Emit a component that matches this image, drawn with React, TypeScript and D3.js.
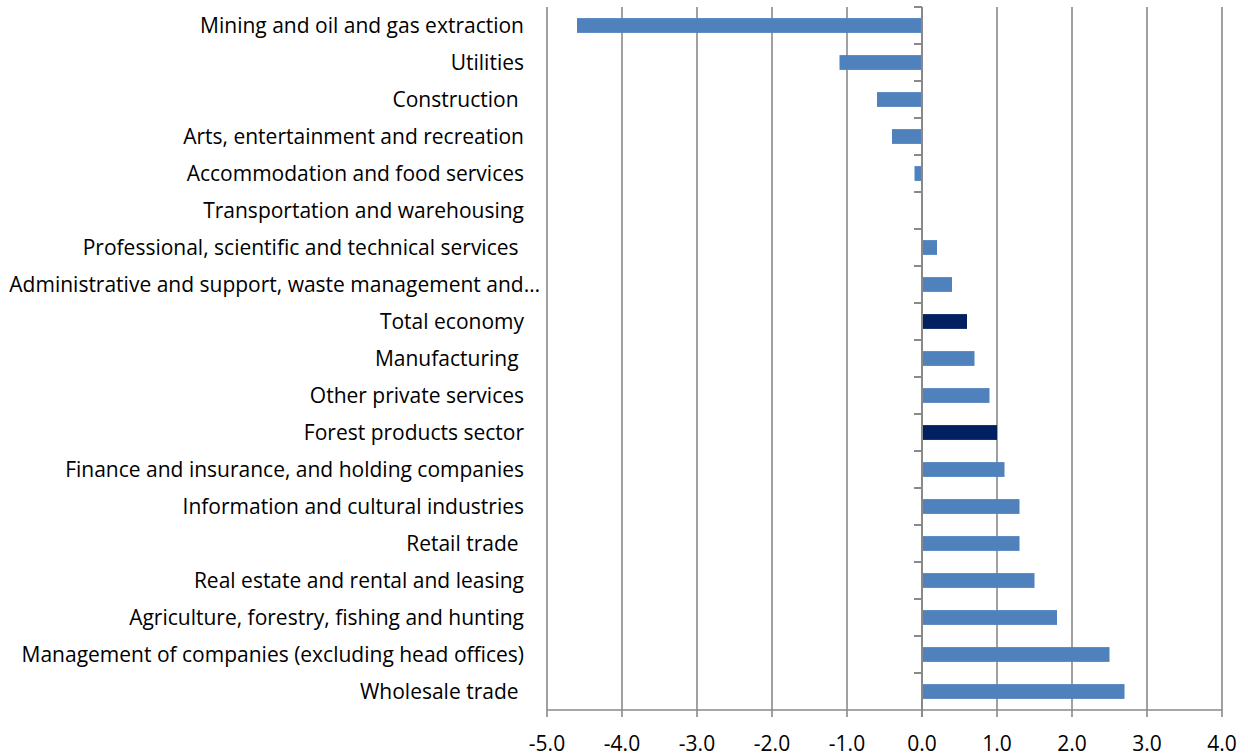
import * as d3 from "d3";

const categories = [
  "Mining and oil and gas extraction",
  "Utilities",
  "Construction ",
  "Arts, entertainment and recreation",
  "Accommodation and food services",
  "Transportation and warehousing",
  "Professional, scientific and technical services ",
  "Administrative and support, waste management and…",
  "Total economy",
  "Manufacturing ",
  "Other private services",
  "Forest products sector",
  "Finance and insurance, and holding companies",
  "Information and cultural industries",
  "Retail trade ",
  "Real estate and rental and leasing",
  "Agriculture, forestry, fishing and hunting",
  "Management of companies (excluding head offices)",
  "Wholesale trade ",
];

const values = [-4.6, -1.1, -0.6, -0.4, -0.1, 0, 0.2, 0.4, 0.6, 0.7, 0.9, 1.0, 1.1, 1.3, 1.3, 1.5, 1.8, 2.5, 2.7];

const highlighted = ["Total economy", "Forest products sector"];

const xTicks = [-5, -4, -3, -2, -1, 0, 1, 2, 3, 4];

const W = 1248;
const H = 756;
const LEFT = 547;
const RIGHT = 1222;
const TOP = 7;
const BOTTOM = 710;

const FONT = "'Open Sans', Lato, sans-serif";
const GRID = "#898989";
const BAR = "#4F81BD";
const BAR_DARK = "#002060";

export default function App() {
  const x = d3.scaleLinear().domain([-5, 4]).range([LEFT, RIGHT]);
  const y = d3.scaleBand<string>().domain(categories).range([TOP, BOTTOM]).paddingInner(0.6).paddingOuter(0.3);
  const band = d3.scaleBand<string>().domain(categories).range([TOP, BOTTOM]);
  const x0 = x(0);

  return (
    <div style={{ position: "fixed", left: 0, top: 0, width: W, height: H, background: "#fff" }}>
      <svg width={W} height={H} style={{ display: "block" }}>
        {/* vertical gridlines */}
        {xTicks.filter(t => t !== 0).map(t => (
          <line key={t} x1={x(t)} x2={x(t)} y1={TOP} y2={BOTTOM + 7} stroke={GRID} strokeWidth={1.6} />
        ))}

        {/* bars */}
        {categories.map((c, i) => {
          const v = values[i];
          return (
            <rect
              key={c}
              x={Math.min(x(v), x0)}
              y={y(c)}
              width={Math.abs(x(v) - x0)}
              height={y.bandwidth()}
              fill={highlighted.includes(c) ? BAR_DARK : BAR}
            />
          );
        })}

        {/* zero axis with category ticks */}
        <line x1={x0} x2={x0} y1={TOP} y2={BOTTOM + 7} stroke={GRID} strokeWidth={2} />
        {categories.map(c => (
          <line key={c} x1={x0 - 8} x2={x0} y1={band(c)} y2={band(c)} stroke={GRID} strokeWidth={2} />
        ))}

        {/* bottom axis */}
        <line x1={LEFT} x2={RIGHT} y1={BOTTOM} y2={BOTTOM} stroke={GRID} strokeWidth={1.6} />
        {xTicks.map(t => (
          <text
            key={t}
            x={x(t)}
            y={751}
            textAnchor="middle"
            fontFamily={FONT}
            fontSize={21}
            fill="#000"
          >
            {t.toFixed(1)}
          </text>
        ))}

        {/* category labels */}
        {categories.map(c => (
          <text
            key={c}
            x={c.endsWith("…") ? 540 : 524}
            y={(band(c) ?? 0) + band.bandwidth() / 2}
            dy="0.35em"
            textAnchor="end"
            fontFamily={FONT}
            fontSize={21}
            fill="#000"
            style={{ whiteSpace: "pre" }}
          >
            {c}
          </text>
        ))}
      </svg>
    </div>
  );
}
